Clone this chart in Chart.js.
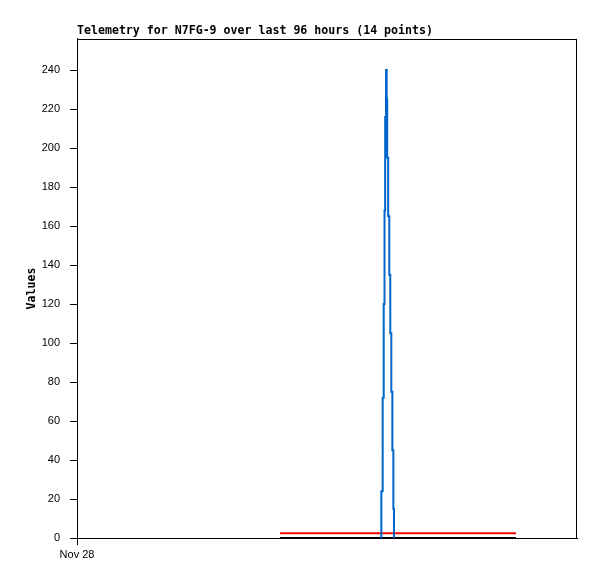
<!DOCTYPE html>
<html>
<head>
<meta charset="utf-8">
<script src="https://cdn.jsdelivr.net/npm/chart.js@4"></script>
<style>
  html, body { margin: 0; padding: 0; background: #fff; }
  canvas { display: block; }
</style>
</head>
<body>
<canvas id="telemetryChart" width="597" height="579"></canvas>
<script>
// hours since the start of the 96 hour window
const blueHours = [58.43, 58.43, 58.69, 58.89, 59.04, 59.17, 59.33, 59.46, 59.56, 59.75, 59.96, 60.15, 60.35, 60.55, 60.74, 60.86];
const blueValues = [0, 24, 72, 120, 168, 216, 240, 225, 195, 165, 135, 105, 75, 45, 15, 0];
const redHours = [38.98, 84.29];
const redValues = [2.5, 2.5];
const blackHours = [38.98, 84.29];
const blackValues = [0, 0];

const yTicks = [0, 20, 40, 60, 80, 100, 120, 140, 160, 180, 200, 220, 240];
const xTicks = [0];
const xLabels = ["Nov 28"];

const TITLE = "Telemetry for N7FG-9 over last 96 hours (14 points)";
const tickFont = { family: "'Liberation Sans', Arial, sans-serif", size: 11 };
const boldMono = { family: "'DejaVu Sans Mono', monospace", size: 11.6, weight: "bold" };

function toPoints(xs, ys) {
  return xs.map((x, i) => ({ x: x, y: ys[i] }));
}

// top and right edges of the plot frame
const frame = {
  id: "frame",
  afterDatasetsDraw(chart) {
    const { ctx, chartArea: a } = chart;
    ctx.save();
    ctx.strokeStyle = "#000";
    ctx.lineWidth = 1;
    ctx.beginPath();
    ctx.moveTo(a.left, Math.round(a.top) + 0.5);
    ctx.lineTo(a.right, Math.round(a.top) + 0.5);
    ctx.moveTo(Math.round(a.right) - 0.5, a.top);
    ctx.lineTo(Math.round(a.right) - 0.5, a.bottom);
    ctx.stroke();
    ctx.restore();
  },
};

new Chart(document.getElementById("telemetryChart"), {
  type: "line",
  data: {
    datasets: [
      {
        data: toPoints(blueHours, blueValues),
        borderColor: "#0066cc",
        borderWidth: 2,
        stepped: "before",
        pointRadius: 0,
      },
      {
        data: toPoints(redHours, redValues),
        borderColor: "#ff0000",
        borderWidth: 2,
        pointRadius: 0,
      },
      {
        data: toPoints(blackHours, blackValues),
        borderColor: "#000000",
        borderWidth: 2,
        pointRadius: 0,
      },
    ],
  },
  options: {
    responsive: false,
    animation: false,
    layout: { padding: { left: 0, right: 20, top: 0, bottom: 18 } },
    plugins: {
      legend: { display: false },
      tooltip: { enabled: false },
      title: {
        display: true,
        text: TITLE,
        align: "start",
        fullSize: false,
        color: "#000",
        font: boldMono,
        padding: { top: 24, bottom: 1 },
      },
    },
    scales: {
      x: {
        type: "linear",
        min: 0,
        max: 96,
        afterBuildTicks: (axis) => {
          axis.ticks = xTicks.map((v) => ({ value: v }));
        },
        afterFit: (axis) => {
          axis.height = 23;
        },
        ticks: {
          color: "#000",
          font: tickFont,
          padding: 3,
          maxRotation: 0,
          callback: (v) => xLabels[xTicks.indexOf(v)],
        },
        grid: {
          drawOnChartArea: false,
          tickLength: 7,
          // only the labelled tick gets a mark
          tickColor: (c) => (c.tick && xTicks.includes(c.tick.value) ? "#000" : "rgba(0,0,0,0)"),
        },
        border: { color: "#000", width: 1 },
      },
      y: {
        min: 0,
        max: 256,
        afterBuildTicks: (axis) => {
          axis.ticks = yTicks.map((v) => ({ value: v }));
        },
        afterFit: (axis) => {
          axis.width = 77;
        },
        ticks: { color: "#000", font: tickFont, padding: 10 },
        grid: { drawOnChartArea: false, tickLength: 7, tickColor: "#000" },
        border: { color: "#000", width: 1 },
        title: {
          display: true,
          text: "Values",
          color: "#000",
          font: boldMono,
          padding: { top: 25, bottom: 0 },
        },
      },
    },
  },
  plugins: [frame],
});
</script>
</body>
</html>
